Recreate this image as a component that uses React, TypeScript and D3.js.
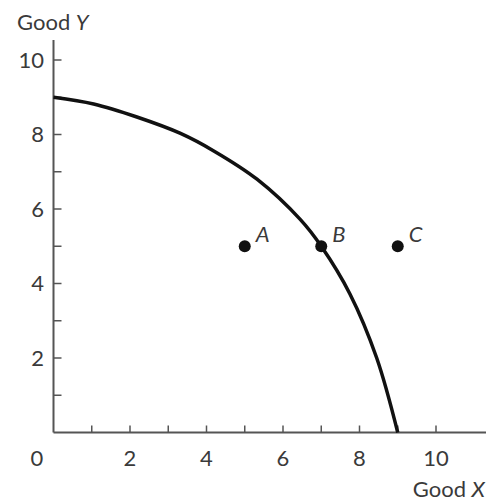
import React, { useEffect, useRef } from 'react';
import * as d3 from 'd3';

// Production possibilities frontier
const frontierX = [0, 1.05, 2.18, 3.32, 4.19, 5.32, 6.45, 7, 7.75, 8.45, 9];
const frontierY = [9, 8.82, 8.47, 8.03, 7.56, 6.8, 5.72, 5, 3.72, 2.0, 0];

// Labelled points
const pointNames = ['A', 'B', 'C'];
const pointX = [5, 7, 9];
const pointY = [5, 5, 5];

// Tick labels
const xTickLabels = [2, 4, 6, 8, 10];
const yTickLabels = [2, 4, 6, 8, 10];
const minorTicks = [1, 2, 3, 4, 5, 6, 7, 8, 9, 10];

const width = 486;
const height = 501;

const App = () => {
  const svgRef = useRef<SVGSVGElement>(null);

  useEffect(() => {
    const svg = d3.select(svgRef.current);
    svg.selectAll('*').remove();

    const font = 'Lato, "Noto Sans", sans-serif';
    const textColor = '#3a3a3a';
    const axisColor = '#555';

    // scales: 0 at the origin, 10 at the last labelled tick
    const x = d3.scaleLinear().domain([0, 10]).range([53.5, 436]);
    const y = d3.scaleLinear().domain([0, 10]).range([432.5, 60]);

    const xMax = x.invert(width);
    const yMax = y.invert(40);

    const g = svg.append('g');

    // axis lines
    g.append('line')
      .attr('x1', x(0)).attr('x2', x(xMax))
      .attr('y1', y(0)).attr('y2', y(0))
      .attr('stroke', axisColor).attr('stroke-width', 2);
    g.append('line')
      .attr('x1', x(0)).attr('x2', x(0))
      .attr('y1', y(0)).attr('y2', y(yMax))
      .attr('stroke', axisColor).attr('stroke-width', 2);

    // ticks point inwards
    g.selectAll('.xtick')
      .data(minorTicks)
      .enter()
      .append('line')
      .attr('x1', (d) => x(d)).attr('x2', (d) => x(d))
      .attr('y1', y(0)).attr('y2', y(0) - 7)
      .attr('stroke', axisColor).attr('stroke-width', 1.5);
    g.selectAll('.ytick')
      .data(minorTicks)
      .enter()
      .append('line')
      .attr('x1', x(0)).attr('x2', x(0) + 8)
      .attr('y1', (d) => y(d)).attr('y2', (d) => y(d))
      .attr('stroke', axisColor).attr('stroke-width', 1.5);

    // tick labels
    g.selectAll('.xlab')
      .data(xTickLabels)
      .enter()
      .append('text')
      .attr('x', (d) => x(d))
      .attr('y', 466)
      .attr('text-anchor', 'middle')
      .style('font-family', font)
      .style('font-size', '22px')
      .style('fill', textColor)
      .text((d) => d);
    g.append('text')
      .attr('x', 37)
      .attr('y', 466)
      .attr('text-anchor', 'middle')
      .style('font-family', font)
      .style('font-size', '22px')
      .style('fill', textColor)
      .text('0');
    g.selectAll('.ylab')
      .data(yTickLabels)
      .enter()
      .append('text')
      .attr('x', 44)
      .attr('y', (d) => y(d))
      .attr('dy', '0.36em')
      .attr('text-anchor', 'end')
      .style('font-family', font)
      .style('font-size', '22px')
      .style('fill', textColor)
      .text((d) => d);

    // axis titles
    const yTitle = g.append('text')
      .attr('x', 17)
      .attr('y', 30)
      .style('font-family', font)
      .style('font-size', '22px')
      .style('fill', textColor);
    yTitle.append('tspan').text('Good ');
    yTitle.append('tspan').style('font-style', 'italic').text('Y');

    const xTitle = g.append('text')
      .attr('x', 485)
      .attr('y', 497)
      .attr('text-anchor', 'end')
      .style('font-family', font)
      .style('font-size', '22px')
      .style('fill', textColor);
    xTitle.append('tspan').text('Good ');
    xTitle.append('tspan').style('font-style', 'italic').text('X');

    // frontier curve
    const line = d3.line<number>()
      .x((d, i) => x(frontierX[i]))
      .y((d, i) => y(frontierY[i]))
      .curve(d3.curveCatmullRom.alpha(0.5));
    g.append('path')
      .attr('d', line(frontierX))
      .attr('fill', 'none')
      .attr('stroke', '#111')
      .attr('stroke-width', 3.5);

    // points and their labels
    const pts = g.selectAll('.pt').data(pointNames).enter().append('g');
    pts.append('circle')
      .attr('cx', (d, i) => x(pointX[i]))
      .attr('cy', (d, i) => y(pointY[i]))
      .attr('r', 6)
      .attr('fill', '#111');
    pts.append('text')
      .attr('x', (d, i) => x(pointX[i]) + 11)
      .attr('y', (d, i) => y(pointY[i]) - 4)
      .style('font-family', font)
      .style('font-size', '22px')
      .style('font-style', 'italic')
      .style('fill', textColor)
      .text((d) => d);
  }, []);

  return (
    <div style={{ position: 'absolute', left: 0, top: 0, background: 'white' }}>
      <svg ref={svgRef} width={width} height={height} style={{ display: 'block' }}></svg>
    </div>
  );
};

export default App;
